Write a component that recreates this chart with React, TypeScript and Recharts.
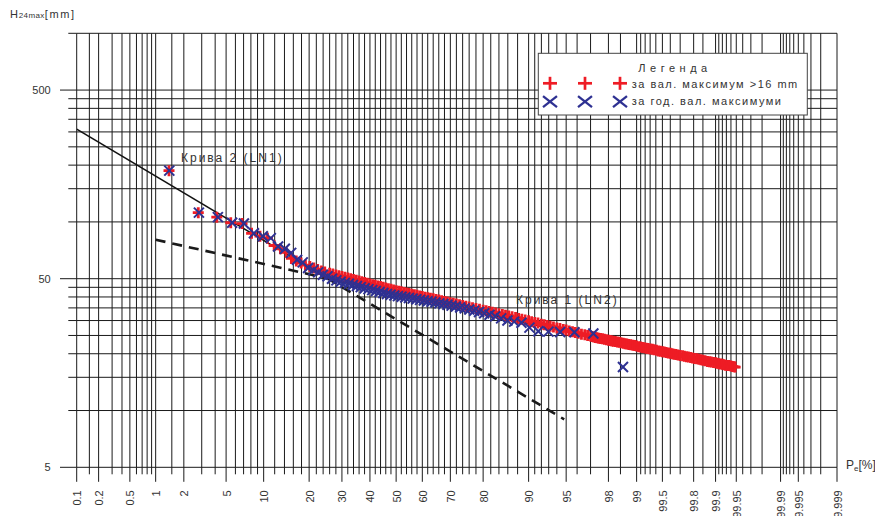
import React from 'react';
import { ComposedChart, Scatter, Line, XAxis, YAxis, CartesianGrid } from 'recharts';

// ---------- data ----------
// exceedance probabilities (%) of the probability-paper grid lines
const gridPe = [0.1, 0.15, 0.2, 0.3, 0.4, 0.5, 0.6, 0.7, 0.8, 0.9, 1, 1.5, 2, 3, 4, 5, 6, 7, 8, 9, 10, 12, 14, 16, 18, 20, 22, 24, 26, 28, 30, 32, 34, 36, 38, 40, 42, 44, 46, 48, 50, 52, 54, 56, 58, 60, 62, 64, 66, 68, 70, 72, 74, 76, 78, 80, 82, 84, 86, 88, 90, 91, 92, 93, 94, 95, 96, 97, 98, 98.5, 99, 99.1, 99.2, 99.3, 99.4, 99.5, 99.6, 99.7, 99.8, 99.85, 99.9, 99.91, 99.92, 99.93, 99.94, 99.95, 99.96, 99.97, 99.98, 99.99, 99.991, 99.992, 99.993, 99.994, 99.995, 99.996, 99.997, 99.998, 99.999];
const labeledPe = ['0.1', '0.2', '0.5', '1', '2', '5', '10', '20', '30', '40', '50', '60', '70', '80', '90', '95', '98', '99', '99.5', '99.8', '99.9', '99.95', '99.99', '99.995', '99.999'];
const yGrid = [5, 10, 15, 20, 25, 30, 35, 40, 45, 50, 100, 150, 200, 250, 300, 350, 400, 450, 500, 1000];
const yLabels = [5, 50, 500];

// annual maxima (blue x)
const blueP = [1.41, 2.82, 4.23, 5.63, 7.04, 8.45, 9.86, 11.27, 12.68, 14.08,
  15.49, 16.90, 18.31, 19.72, 21.13, 22.54, 23.94, 25.35, 26.76, 28.17,
  29.58, 30.99, 32.39, 33.80, 35.21, 36.62, 38.03, 39.44, 40.85, 42.25,
  43.66, 45.07, 46.48, 47.89, 49.30, 50.70, 52.11, 53.52, 54.93, 56.34,
  57.75, 59.15, 60.56, 61.97, 63.38, 64.79, 66.20, 67.61, 69.01, 70.42,
  71.83, 73.24, 74.65, 76.06, 77.46, 78.87, 80.28, 81.69, 83.10, 84.51,
  85.92, 87.32, 88.73, 90.14, 91.55, 92.96, 94.37, 95.77, 97.18, 98.59];
const blueH = [187, 112, 106, 99, 98, 87, 84, 82, 74, 72,
  68.5, 63, 61, 57, 55.5, 54, 52.5, 51.5, 50, 49,
  48.2, 47.5, 47, 46.3, 45.7, 45.1, 44.5, 44, 43.5, 43,
  42.5, 42, 41.5, 41.1, 40.7, 40.4, 40.1, 39.8, 39.5, 39.2,
  38.9, 38.6, 38.3, 38.0, 37.7, 37.4, 37.0, 36.7, 36.4, 36.0,
  35.6, 35.2, 34.8, 34.3, 33.8, 33.3, 32.8, 32.2, 31.6, 30.8,
  30.0, 29.6, 29.2, 27.5, 26.3, 26.2, 26.1, 26.0, 25.6, 17.0];

// peaks over 16 mm (red +)
const redP = [1.40, 2.78, 4.14, 5.48, 6.80, 8.10, 9.39, 10.66, 11.9, 13.14, 14.35, 15.54, 16.7, 17.9, 19.0, 20.2, 21.3, 22.4, 23.5, 24.5,
  26, 27, 28, 29, 30, 31, 32, 33, 34, 35, 36, 37, 38, 39, 40, 41, 42, 43, 44, 45, 46, 47, 48, 49, 50,
  51, 52, 53, 54, 55, 56, 57, 58, 59, 60, 61, 62, 63, 64, 65, 66, 67, 68, 69, 70,
  71, 72, 73, 74, 75, 76, 77, 78, 79, 80, 80.8, 81.6, 82.4, 83.2, 84, 84.8, 85.5, 86.2, 86.9,
  87.6, 88.2, 88.8, 89.4, 90, 90.5, 91, 91.5, 92, 92.4, 92.8, 93.2, 93.6, 94, 94.35, 94.7, 95, 95.3, 95.6, 95.85, 96.1, 96.35, 96.6, 96.8,
  97.0, 97.1, 97.2, 97.3, 97.4, 97.5, 97.6, 97.7, 97.8, 97.9, 98.0, 98.08, 98.15, 98.22, 98.3, 98.38, 98.45, 98.52, 98.6, 98.66,
  98.72, 98.78, 98.84, 98.9, 98.95, 99.0, 99.05, 99.1, 99.14, 99.18, 99.22, 99.26, 99.3, 99.34, 99.37, 99.41, 99.44, 99.47, 99.5, 99.525,
  99.55, 99.575, 99.6, 99.62, 99.64, 99.66, 99.68, 99.7, 99.72, 99.735, 99.75, 99.765, 99.78, 99.793, 99.805, 99.818, 99.83, 99.84, 99.85, 99.86,
  99.87, 99.878, 99.885, 99.893, 99.9, 99.905, 99.91, 99.915, 99.92, 99.924, 99.928, 99.932, 99.936, 99.94, 99.943, 99.946, 99.948];
const redH = [187, 112, 106, 99, 98, 87, 84, 82, 75, 72, 69, 64, 62, 60.5, 59, 58, 57, 56, 55, 54.3,
  53.4, 52.9, 52.3, 51.8, 51.3, 50.9, 50.4, 49.9, 49.5, 49.0, 48.6, 48.2, 47.7, 47.3, 46.9, 46.5, 46.1, 45.8, 45.4, 45.0, 44.6, 44.2, 43.9, 43.5, 43.2,
  42.9, 42.6, 42.3, 42.0, 41.7, 41.4, 41.1, 40.8, 40.5, 40.2, 39.9, 39.6, 39.4, 39.1, 38.8, 38.5, 38.2, 37.9, 37.6, 37.3,
  37.0, 36.7, 36.4, 36.0, 35.7, 35.4, 35.1, 34.7, 34.4, 34.0, 33.8, 33.5, 33.2, 32.9, 32.6, 32.3, 32.0, 31.7, 31.4,
  31.1, 30.8, 30.5, 30.2, 29.9, 29.6, 29.3, 29.1, 28.7, 28.5, 28.2, 28.0, 27.7, 27.4, 27.2, 26.9, 26.7, 26.4, 26.2, 25.9, 25.7, 25.4, 25.2, 25.0,
  24.8, 24.65, 24.5, 24.4, 24.3, 24.2, 24.1, 24.0, 23.9, 23.75, 23.6, 23.5, 23.4, 23.3, 23.2, 23.1, 23.0, 22.85, 22.7, 22.6,
  22.5, 22.4, 22.3, 22.2, 22.1, 21.95, 21.8, 21.7, 21.6, 21.5, 21.4, 21.3, 21.2, 21.1, 21.0, 20.85, 20.7, 20.6, 20.5, 20.4,
  20.3, 20.2, 20.1, 20.0, 19.9, 19.8, 19.7, 19.6, 19.5, 19.4, 19.3, 19.2, 19.1, 19.0, 18.9, 18.8, 18.7, 18.6, 18.5, 18.35,
  18.2, 18.15, 18.1, 18.0, 17.9, 17.8, 17.7, 17.65, 17.6, 17.5, 17.4, 17.35, 17.3, 17.2, 17.1, 17.05, 17.0];

// fitted lognormal lines
const ln1SolidP = [0.1, 25.3];
const ln1SolidH = [310.6, 50.2];
const ln1DashP = [25.3, 94.8];
const ln1DashH = [50.2, 8.98];
const ln2DashP = [1, 25.3];
const ln2DashH = [80.5, 50.2];
const ln2SolidP = [25.3, 97.4];
const ln2SolidH = [50.2, 24.0];

// ---------- probability scale transform ----------
function probit(p: number): number {
  const a = [-3.969683028665376e1, 2.209460984245205e2, -2.759285104469687e2, 1.38357751867269e2, -3.066479806614716e1, 2.506628277459239];
  const b = [-5.447609879822406e1, 1.615858368580409e2, -1.556989798598866e2, 6.680131188771972e1, -1.328068155288572e1];
  const c = [-7.784894002430293e-3, -3.223964580411365e-1, -2.400758277161838, -2.549732539343734, 4.374664141464968, 2.938163982698783];
  const d = [7.784695709041462e-3, 3.224671290700398e-1, 2.445134137142996, 3.754408661907416];
  const plow = 0.02425;
  if (p < plow) {
    const q = Math.sqrt(-2 * Math.log(p));
    return (((((c[0] * q + c[1]) * q + c[2]) * q + c[3]) * q + c[4]) * q + c[5]) / ((((d[0] * q + d[1]) * q + d[2]) * q + d[3]) * q + 1);
  }
  if (p > 1 - plow) {
    const q = Math.sqrt(-2 * Math.log(1 - p));
    return -(((((c[0] * q + c[1]) * q + c[2]) * q + c[3]) * q + c[4]) * q + c[5]) / ((((d[0] * q + d[1]) * q + d[2]) * q + d[3]) * q + 1);
  }
  const q = p - 0.5;
  const r = q * q;
  return ((((((a[0] * r + a[1]) * r + a[2]) * r + a[3]) * r + a[4]) * r + a[5]) * q) / (((((b[0] * r + b[1]) * r + b[2]) * r + b[3]) * r + b[4]) * r + 1);
}
const zOf = (pe: number) => probit(pe / 100);

const xTicks = gridPe.map(zOf);
const Z_MIN = xTicks[0];
const Z_MAX = xTicks[xTicks.length - 1];
const labelZ = labeledPe.map((s) => ({ z: zOf(parseFloat(s)), s }));

const toRows = (ps: number[], hs: number[]) => ps.map((p, i) => ({ z: zOf(p), h: hs[i] }));
const redData = toRows(redP, redH);
const blueData = toRows(blueP, blueH);
const ln1Solid = toRows(ln1SolidP, ln1SolidH);
const ln1Dash = toRows(ln1DashP, ln1DashH);
const ln2Dash = toRows(ln2DashP, ln2DashH);
const ln2Solid = toRows(ln2SolidP, ln2SolidH);

// ---------- styling ----------
const FONT = '"Liberation Sans", Arial, Helvetica, sans-serif';
const TXT = '#333';
const GRID = '#1a1a1a';
const RED = '#ee1c25';
const BLUE = '#2e3192';

const XTick = (props: any) => {
  const { x, y, payload } = props;
  const hit = labelZ.find((e) => Math.abs(e.z - payload.value) < 1e-9);
  return (
    <g>
      <line x1={x} x2={x} y1={y} y2={y + (hit ? 14.5 : 7)} stroke={GRID} strokeWidth={1} />
      {hit && (
        <text
          transform={`translate(${x + 0.5},${y + 23}) rotate(-90)`}
          textAnchor="end"
          dominantBaseline="central"
          fontSize={11}
          fontFamily={FONT}
          fill={TXT}
        >
          {hit.s}
        </text>
      )}
    </g>
  );
};

const YTick = (props: any) => {
  const { x, y, payload } = props;
  const major = yLabels.includes(payload.value);
  return (
    <g>
      <line x1={x - (major ? 16.7 : 8.4)} x2={x} y1={y} y2={y} stroke={GRID} strokeWidth={1} />
      {major && (
        <text x={x - 26} y={y} textAnchor="end" dominantBaseline="central" fontSize={11} fontFamily={FONT} fill={TXT}>
          {payload.value}
        </text>
      )}
    </g>
  );
};

const PlusShape = (props: any) => {
  const { cx, cy } = props;
  const s = 5.5;
  return (
    <g stroke={RED} strokeWidth={2.8}>
      <line x1={cx - s} x2={cx + s} y1={cy} y2={cy} />
      <line x1={cx} x2={cx} y1={cy - s} y2={cy + s} />
    </g>
  );
};

const CrossShape = (props: any) => {
  const { cx, cy } = props;
  const s = 5;
  return (
    <g stroke={BLUE} strokeWidth={2}>
      <line x1={cx - s} x2={cx + s} y1={cy - s} y2={cy + s} />
      <line x1={cx - s} x2={cx + s} y1={cy + s} y2={cy - s} />
    </g>
  );
};

const W = 875;
const H = 508;

const LegendPlus = ({ x, y }: { x: number; y: number }) => (
  <g stroke={RED} strokeWidth={2.7}>
    <line x1={x - 7} x2={x + 7} y1={y} y2={y} />
    <line x1={x} x2={x} y1={y - 6.5} y2={y + 6.5} />
  </g>
);
const LegendCross = ({ x, y }: { x: number; y: number }) => (
  <g stroke={BLUE} strokeWidth={2.3}>
    <line x1={x - 7} x2={x + 7} y1={y - 5.5} y2={y + 5.5} />
    <line x1={x - 7} x2={x + 7} y1={y + 5.5} y2={y - 5.5} />
  </g>
);

export default function App() {
  return (
    <div style={{ position: 'relative', width: W, height: H }}>
      <ComposedChart width={W} height={H} margin={{ top: 25.3, right: 46, bottom: 0, left: 0 }} style={{ fontFamily: FONT }}>
        <CartesianGrid stroke={GRID} strokeWidth={1} />
        <XAxis
          type="number"
          dataKey="z"
          domain={[Z_MIN, Z_MAX]}
          allowDataOverflow
          ticks={xTicks}
          interval={0}
          tick={XTick}
          tickLine={false}
          axisLine={false}
          tickSize={0}
          tickMargin={0}
          height={48.7}
        />
        <YAxis
          type="number"
          dataKey="h"
          scale="log"
          domain={[5, 1000]}
          allowDataOverflow
          ticks={yGrid}
          interval={0}
          tick={YTick}
          tickLine={false}
          axisLine={false}
          tickSize={0}
          tickMargin={0}
          width={68.7}
        />
        <Scatter data={redData} shape={PlusShape} isAnimationActive={false} />
        <Scatter data={blueData} shape={CrossShape} isAnimationActive={false} />
        <Line data={ln1Solid} dataKey="h" stroke="#111" strokeWidth={1.6} dot={false} activeDot={false} isAnimationActive={false} />
        <Line data={ln2Solid} dataKey="h" stroke="#111" strokeWidth={1.6} dot={false} activeDot={false} isAnimationActive={false} />
        <Line data={ln1Dash} dataKey="h" stroke="#1a1a1a" strokeWidth={2.6} strokeDasharray="10 7" dot={false} activeDot={false} isAnimationActive={false} />
        <Line data={ln2Dash} dataKey="h" stroke="#1a1a1a" strokeWidth={2.6} strokeDasharray="10 7" dot={false} activeDot={false} isAnimationActive={false} />
      </ComposedChart>
      <svg width={W} height={H} style={{ position: 'absolute', left: 0, top: 0, pointerEvents: 'none', overflow: 'visible' }} fontFamily={FONT}>
        <text x={2} y={10.3} fontSize={11} fill={TXT} letterSpacing={0.8}>
          H<tspan fontSize={8} letterSpacing={0.4}>24max</tspan>
          <tspan fontSize={11} letterSpacing={1.6}>[mm]</tspan>
        </text>
        <text x={838} y={461.3} fontSize={12} fill={TXT}>
          P<tspan fontSize={8} dy={1.5}>e</tspan>
          <tspan fontSize={12} dy={-1.5}>[%]</tspan>
        </text>
        <text x={173} y={154} fontSize={12} fill={TXT} letterSpacing={2}>Крива 2 (LN1)</text>
        <text x={508} y={296} fontSize={12} fill={TXT} letterSpacing={2}>Крива 1 (LN2)</text>
        <rect x={530.3} y={45.3} width={269} height={61.7} fill="#fff" stroke="#444" strokeWidth={1} />
        <text x={667} y={63.7} fontSize={11} fill={TXT} textAnchor="middle" letterSpacing={4.5}>Легенда</text>
        <LegendPlus x={542} y={75.3} />
        <LegendPlus x={577} y={75.3} />
        <LegendPlus x={612} y={75.3} />
        <text x={623.7} y={80} fontSize={11} fill={TXT} letterSpacing={1.5}>за вал. максимум &gt;16 mm</text>
        <LegendCross x={542} y={93.7} />
        <LegendCross x={577} y={93.7} />
        <LegendCross x={612} y={93.7} />
        <text x={623.7} y={97} fontSize={11} fill={TXT} letterSpacing={1.5}>за год. вал. максимуми</text>
      </svg>
    </div>
  );
}
